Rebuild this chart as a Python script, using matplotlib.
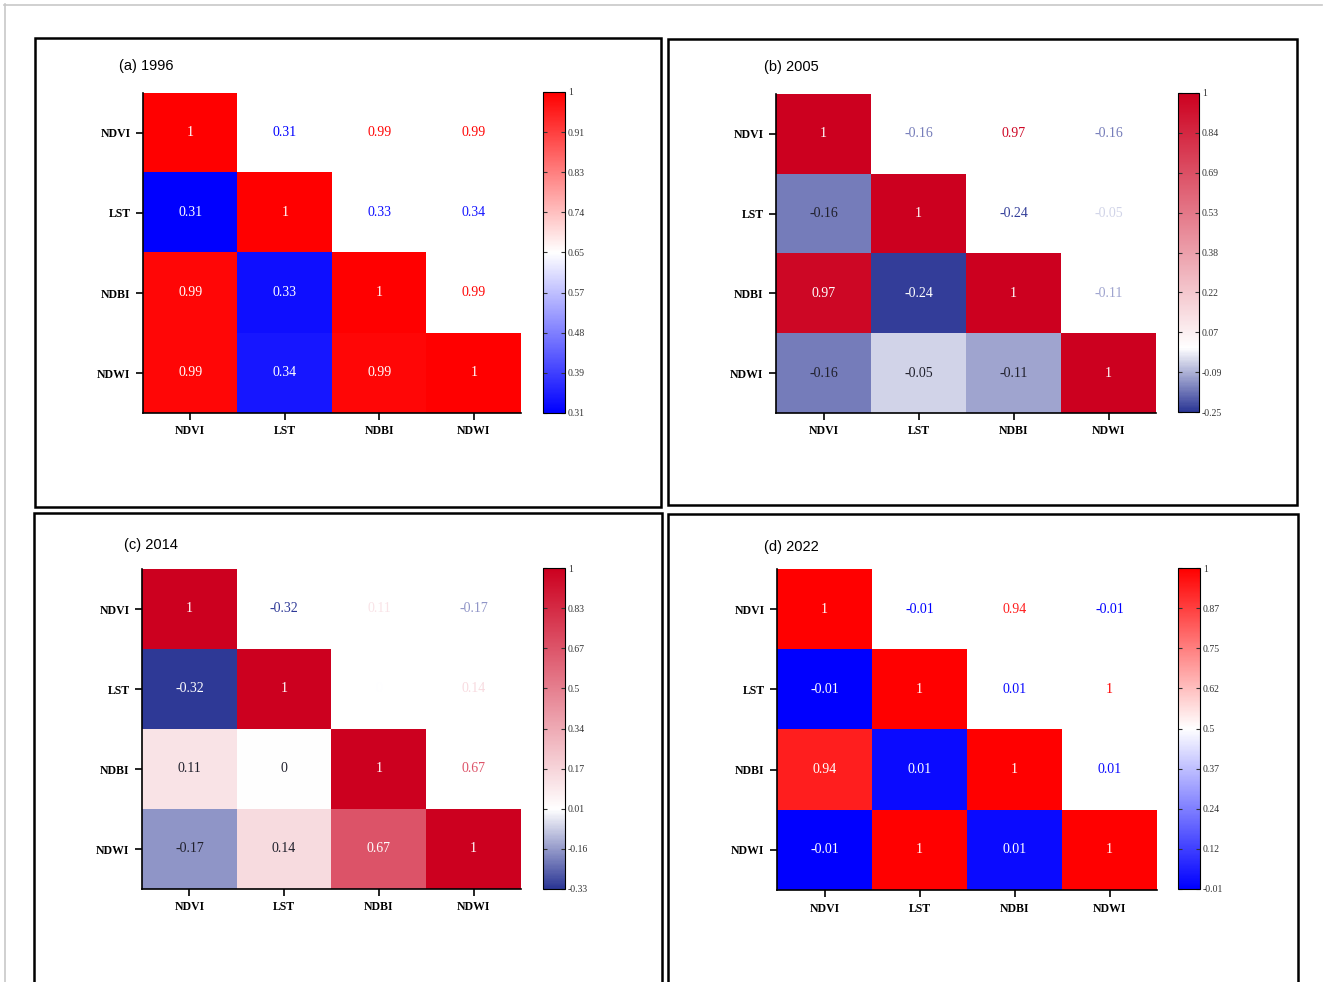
import numpy as np
import matplotlib
matplotlib.use('Agg')
import matplotlib.pyplot as plt
from matplotlib.colors import LinearSegmentedColormap, Normalize
from matplotlib.patches import Rectangle
from matplotlib.lines import Line2D

W, H = 1326, 982

indices = ['NDVI', 'LST', 'NDBI', 'NDWI']
titles = ['(a) 1996', '(b) 2005', '(c) 2014', '(d) 2022']

r_1996 = [[1, 0.31, 0.99, 0.99],
          [0.31, 1, 0.33, 0.34],
          [0.99, 0.33, 1, 0.99],
          [0.99, 0.34, 0.99, 1]]
r_2005 = [[1, -0.16, 0.97, -0.16],
          [-0.16, 1, -0.24, -0.05],
          [0.97, -0.24, 1, -0.11],
          [-0.16, -0.05, -0.11, 1]]
r_2014 = [[1, -0.32, 0.11, -0.17],
          [-0.32, 1, 0, 0.14],
          [0.11, 0, 1, 0.67],
          [-0.17, 0.14, 0.67, 1]]
r_2022 = [[1, -0.01, 0.94, -0.01],
          [-0.01, 1, 0.01, 1],
          [0.94, 0.01, 1, 0.01],
          [-0.01, 1, 0.01, 1]]
matrices = [r_1996, r_2005, r_2014, r_2022]

cbar_min = [0.31, -0.25, -0.33, -0.01]
cbar_max = [1, 1, 1, 1]
cbar_labels_1996 = ['0.31', '0.39', '0.48', '0.57', '0.65', '0.74', '0.83', '0.91', '1']
cbar_labels_2005 = ['-0.25', '-0.09', '0.07', '0.22', '0.38', '0.53', '0.69', '0.84', '1']
cbar_labels_2014 = ['-0.33', '-0.16', '0.01', '0.17', '0.34', '0.5', '0.67', '0.83', '1']
cbar_labels_2022 = ['-0.01', '0.12', '0.24', '0.37', '0.5', '0.62', '0.75', '0.87', '1']
cbar_labels = [cbar_labels_1996, cbar_labels_2005, cbar_labels_2014, cbar_labels_2022]

# white point: None = middle of the range, 0 = zero
centres = [None, 0, 0, None]
palettes = [('#0000ff', '#ff0000'), ('#2b3695', '#cc001f'),
            ('#2b3695', '#cc001f'), ('#0000ff', '#ff0000')]

# pixel boxes (x0, y0, x1, y1)
frames = [(35, 38, 661, 507), (668, 39, 1297, 505), (34, 513, 662, 995), (668, 514, 1298, 995)]
heat_boxes = [(143, 93, 521, 413), (776, 94, 1156, 413), (142, 569, 521, 889), (777, 569, 1157, 890)]
cbar_boxes = [(543, 92, 565, 413), (1178, 93, 1199, 412), (543, 568, 565, 889), (1178, 568, 1200, 889)]
title_pos = [(119, 66), (764, 67), (124, 545), (764, 547)]

SERIF = 'Liberation Serif'
SANS = 'Liberation Sans'


def box(b):
    x0, y0, x1, y1 = b
    return [x0 / W, 1 - y1 / H, (x1 - x0) / W, (y1 - y0) / H]


fig = plt.figure(figsize=(W / 100, H / 100), dpi=100)

fig.add_artist(Line2D([4 / W, 1322 / W], [1 - 4.5 / H] * 2, color='#c8c8c8', lw=1.2))
fig.add_artist(Line2D([4.5 / W] * 2, [1 - 4 / H, 0], color='#c8c8c8', lw=1.2))

for k in range(4):
    r = np.array(matrices[k], dtype=float)
    vmin, vmax = cbar_min[k], cbar_max[k]
    low, high = palettes[k]
    if centres[k] is None:
        p = 0.5
    else:
        p = (centres[k] - vmin) / (vmax - vmin)
    cmap = LinearSegmentedColormap.from_list('div%d' % k, [(0, low), (p, 'white'), (1, high)])
    cmap.set_bad((1, 1, 1, 0))
    norm = Normalize(vmin=vmin, vmax=vmax)

    fx0, fy0, fx1, fy1 = frames[k]
    fig.add_artist(Rectangle((fx0 / W, 1 - fy1 / H), (fx1 - fx0) / W, (fy1 - fy0) / H,
                             transform=fig.transFigure, fill=False, lw=1.8, ec='black'))
    fig.text(title_pos[k][0] / W, 1 - title_pos[k][1] / H, titles[k], family=SANS,
             fontsize=10.5, ha='left', va='center')

    ax = fig.add_axes(box(heat_boxes[k]))
    mask = np.triu(np.ones_like(r, dtype=bool), k=1)
    im = ax.imshow(np.ma.masked_where(mask, r), cmap=cmap, norm=norm,
                   aspect='auto', interpolation='nearest')

    n = len(indices)
    for i in range(n):
        for j in range(n):
            v = r[i, j]
            rgb = cmap(norm(v))
            if j > i:
                c = rgb
            else:
                # light cells get dark text
                c = '#20202c' if rgb[1] > 0.42 else 'white'
            ax.text(j, i, f'{v:g}', ha='center', va='center', color=c,
                    family=SERIF, fontsize=10)

    ax.set_xticks(range(n))
    ax.set_yticks(range(n))
    ax.set_xticklabels(indices, family=SERIF, fontweight='bold', fontsize=8.5)
    ax.set_yticklabels(indices, family=SERIF, fontweight='bold', fontsize=8.5)
    ax.tick_params(direction='out', length=5, width=1.2, pad=4, colors='black')
    for s in ['top', 'right']:
        ax.spines[s].set_visible(False)
    for s in ['left', 'bottom']:
        ax.spines[s].set_linewidth(1.2)
    ax.set_xlim(-0.5, n - 0.5)
    ax.set_ylim(n - 0.5, -0.5)

    cax = fig.add_axes(box(cbar_boxes[k]))
    cb = fig.colorbar(im, cax=cax, ticks=np.linspace(vmin, vmax, 9))
    cb.ax.set_yticklabels(cbar_labels[k], family=SERIF, fontsize=7)
    cb.outline.set_linewidth(0.8)
    cb.ax.tick_params(direction='in', left=True, right=True, length=3, width=0.8,
                      colors='#333333', pad=2)

fig.savefig('out.png', dpi=100)
